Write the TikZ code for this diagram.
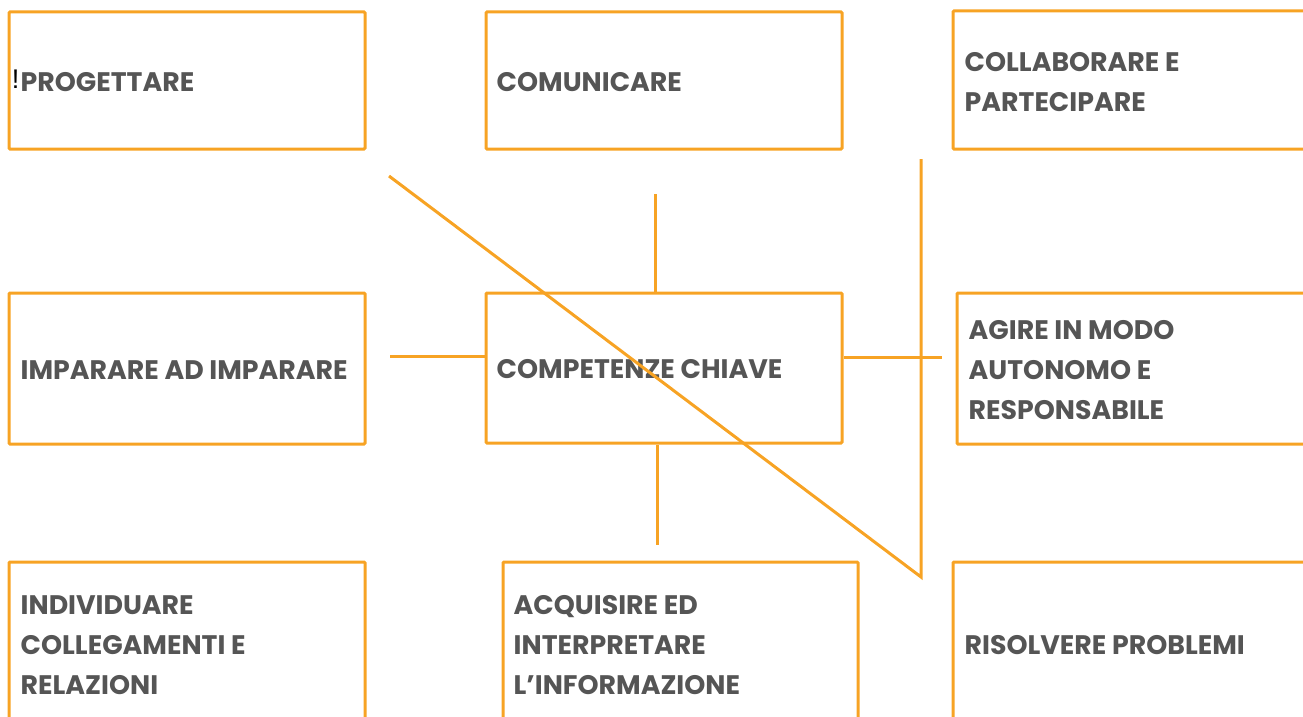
\documentclass[tikz,border=0pt]{standalone}
\usepackage{fontspec}
\newfontfamily\popfont{Poppins}
\newfontfamily\libfont{Liberation Sans}
\definecolor{borange}{HTML}{F7A324}
\definecolor{tgray}{HTML}{555555}
\tikzset{
  box/.style={draw=borange, line width=3pt, rounded corners=1pt, inner sep=0pt, minimum width=356pt},
  lbl/.style={anchor=west, align=left, inner sep=0pt, text=tgray, yshift=-1.5pt, font=\popfont\bfseries\fontsize{26.8}{40}\selectfont},
  conn/.style={draw=borange, line width=3pt}
}
\begin{document}
\begin{tikzpicture}[x=1pt,y=-1pt]
\useasboundingbox (0,0) rectangle (1303,717);
% boxes
\node[box, minimum height=137pt] (prog) at (187,80.5) {};
\node[box, minimum height=137pt] (comu) at (664,80.5) {};
\node[box, minimum height=138pt] (coll) at (1131,80) {};
\node[box, minimum height=151pt] (imp) at (187,368.5) {};
\node[box, minimum height=150pt] (comp) at (664,368) {};
\node[box, minimum height=151pt] (agire) at (1135,368.5) {};
\node[box, minimum height=164pt] (indiv) at (187,644) {};
\node[box, minimum height=164pt, minimum width=355pt] (acq) at (680.5,644) {};
\node[box, minimum height=164pt] (ris) at (1131,644) {};
% labels
\node[lbl] (tprog) at ([xshift=13pt]prog.west) {PROGETTARE};
\node[anchor=base east, inner sep=0pt, font=\libfont\fontsize{27}{27}\selectfont] (excl) at ([xshift=-1pt,yshift=3pt]tprog.base west) {!};
\node[lbl] (tcomu) at ([xshift=12pt]comu.west) {COMUNICARE};
\node[lbl] (tcoll) at ([xshift=13pt,yshift=-1pt]coll.west) {COLLABORARE E\\PARTECIPARE};
\node[lbl] (timp) at ([xshift=13pt]imp.west) {IMPARARE AD IMPARARE};
\node[lbl] (tcomp) at ([xshift=12pt]comp.west) {COMPETENZE CHIAVE};
\node[lbl] (tagire) at ([xshift=13pt]agire.west) {AGIRE IN MODO\\AUTONOMO E\\RESPONSABILE};
\node[lbl] (tindiv) at ([xshift=13pt]indiv.west) {INDIVIDUARE\\COLLEGAMENTI E\\RELAZIONI};
\node[lbl] (tacq) at ([xshift=12pt]acq.west) {ACQUISIRE ED\\INTERPRETARE\\L’INFORMAZIONE};
\node[lbl] (tris) at ([xshift=13pt]ris.west) {RISOLVERE PROBLEMI};
% connector ends
\coordinate (ctop) at (655,194);
\coordinate (cleft) at (390,356);
\coordinate (cright) at (942,357);
\coordinate (cbot1) at (657,445);
\coordinate (cbot2) at (657,545);
\coordinate (dstart) at (389,176);
\coordinate (dcorner) at (921,577);
\coordinate (vtop) at (921,159);
% connectors
\draw[conn] (ctop) -- (ctop |- comp.north);
\draw[conn] (cleft) -- (cleft -| comp.west);
\draw[conn] (comp.east |- cright) -- (cright);
\draw[conn] (cbot1) -- (cbot2);
\draw[conn, line join=miter] (dstart) -- (dcorner) -- (vtop);
\end{tikzpicture}
\end{document}
